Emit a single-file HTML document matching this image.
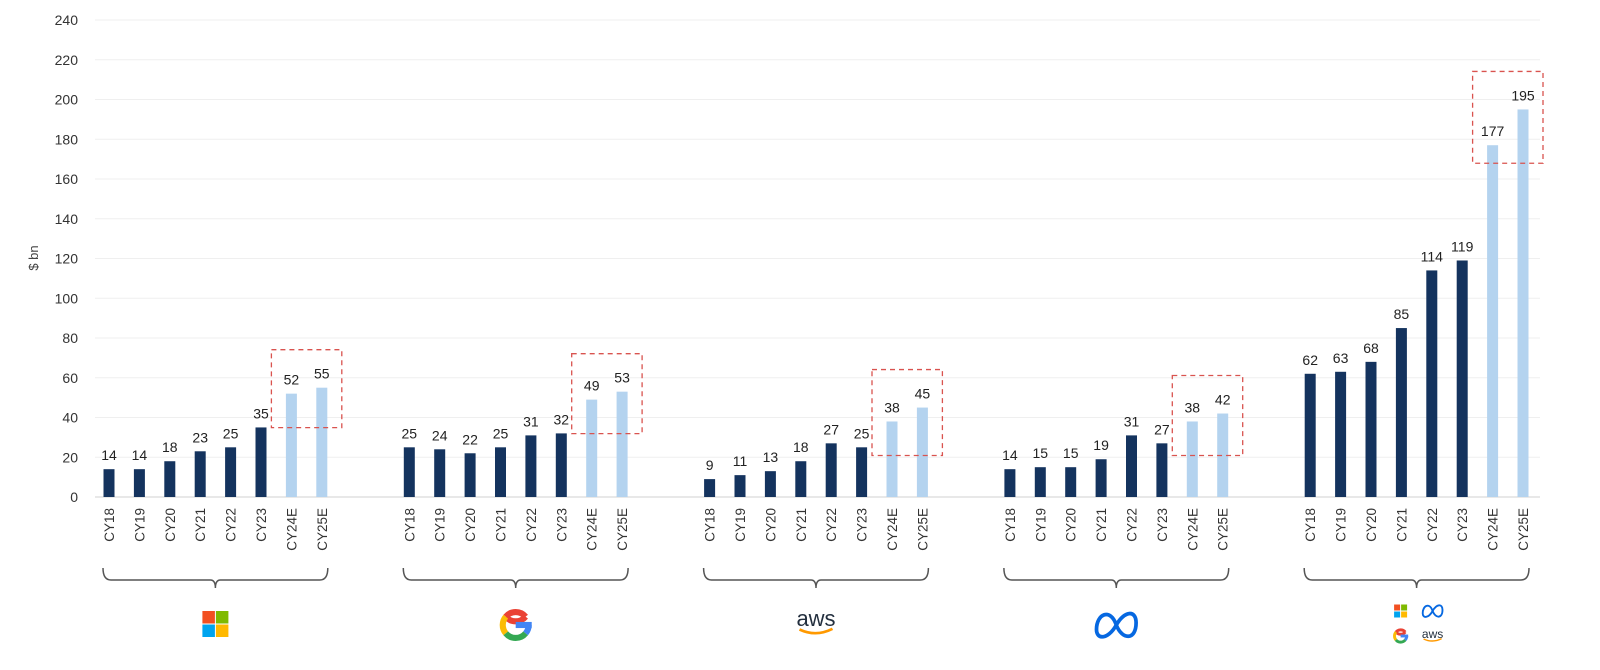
<!DOCTYPE html>
<html><head><meta charset="utf-8"><style>
html,body{margin:0;padding:0;background:#fff;}
svg{display:block;font-family:"Liberation Sans",sans-serif;}
</style></head><body>
<svg id="chart" width="1600" height="670" viewBox="0 0 1600 670" xmlns="http://www.w3.org/2000/svg">
<g id="grid"></g>
<g id="yticks"></g>
<text transform="translate(38,258) rotate(-90)" text-anchor="middle" font-size="13" fill="#444">$ bn</text>
<g id="bars"></g>
<g id="logos"></g>
</svg>
<script>
const categories = ["CY18","CY19","CY20","CY21","CY22","CY23","CY24E","CY25E"];
const groups = ["microsoft","google","aws","meta","total"];
const msft = [14,14,18,23,25,35,52,55];
const goog = [25,24,22,25,31,32,49,53];
const amzn = [9,11,13,18,27,25,38,45];
const meta = [14,15,15,19,31,27,38,42];
const total = [62,63,68,85,114,119,177,195];
const yTicks = [0,20,40,60,80,100,120,140,160,180,200,220,240];
const series = [msft,goog,amzn,meta,total];

const NS="http://www.w3.org/2000/svg";
function y(v){return 497 - v*(477/240);}
function x(g,i){return 109 + g*300.3 + i*30.4;}
function mk(tag,attrs,parent){const e=document.createElementNS(NS,tag);for(const k in attrs)e.setAttribute(k,attrs[k]);parent.appendChild(e);return e;}

const grid=document.getElementById('grid'), yt=document.getElementById('yticks'), bars=document.getElementById('bars'), logos=document.getElementById('logos');
yTicks.forEach(t=>{
  const l=mk('line',{x1:95,x2:1540,y1:y(t),y2:y(t),stroke:t===0?'#d0d0d0':'#efefef','stroke-width':1},grid);
  
  
  const tx=mk('text',{x:78,y:y(t)+5,'text-anchor':'end','font-size':14,fill:'#333'},yt);
  tx.textContent=t;
  
  
});

series.forEach((vals,g)=>{
  vals.forEach((v,i)=>{
    const cx=x(g,i);
    const est=i>=6;
    const r=mk('rect',{x:cx-5.5,y:y(v),width:11,height:y(0)-y(v),fill:est?'#b4d3ef':'#14335e'},bars);
    
    
    const lb=mk('text',{x:cx,y:y(v)-9,'text-anchor':'middle','font-size':14,fill:'#222'},bars);
    lb.textContent=v;
    
    
    const cl=mk('text',{transform:`translate(${cx+5},508) rotate(-90)`,'text-anchor':'end','font-size':13.5,fill:'#333'},bars);
    cl.textContent=categories[i];
    
    
  });
  const top=Math.max(vals[6],vals[7]);
  const x0=x(g,6)-20, x1=x(g,7)+20;
  const y0=y(top)-38, y1=y(Math.min(vals[6],vals[7]))+ (g===4?18:34);
  const bx=mk('rect',{x:x0,y:y0,width:x1-x0,height:y1-y0,fill:'none',stroke:'#d9534f','stroke-width':1.3,'stroke-dasharray':'5,4'},bars);
  
  
  const a=x(g,0)-6, b=x(g,7)+6, m=(a+b)/2;
  const br=mk('path',{d:`M${a},568 Q${a},580 ${a+8},580 L${m-5},580 Q${m},580 ${m},588 Q${m},580 ${m+5},580 L${b-8},580 Q${b},580 ${b},568`,fill:'none',stroke:'#555','stroke-width':1.5},bars);
  
  
});

function msLogo(cx,cy,s,p){
  const h=s/2-0.5;
  [['#f25022',0,0],['#7fba00',1,0],['#00a4ef',0,1],['#ffb900',1,1]].forEach(([c,i,j])=>mk('rect',{x:cx-s/2+i*(h+1),y:cy-s/2+j*(h+1),width:h,height:h,fill:c},p));
}
function gLogo(cx,cy,s,p){
  const r=s*0.36, sw=s*0.17;
  const arc=(a1,a2,col)=>{const t1=a1*Math.PI/180,t2=a2*Math.PI/180;
    mk('path',{d:`M${cx+r*Math.cos(t1)},${cy+r*Math.sin(t1)} A${r},${r} 0 ${(a2-a1)>180?1:0} 1 ${cx+r*Math.cos(t2)},${cy+r*Math.sin(t2)}`,fill:'none',stroke:col,'stroke-width':sw},p);};
  arc(-40,-140+360-360+0,'#ea4335');
  arc(-140,-40,'#ea4335');
  arc(140,220,'#fbbc05');
  arc(40,140,'#34a853');
  arc(0,40,'#4285f4');
  mk('rect',{x:cx,y:cy-sw/2,width:r+sw/2,height:sw,fill:'#4285f4'},p);
}
function awsLogo(cx,cy,s,p){
  const t=mk('text',{x:cx,y:cy+2,'text-anchor':'middle','font-size':s,fill:'#232f3e'},p);t.textContent='aws';
  mk('path',{d:`M${cx-s*0.75},${cy+s*0.25} Q${cx},${cy+s*0.6} ${cx+s*0.75},${cy+s*0.22}`,fill:'none',stroke:'#ff9900','stroke-width':s*0.12},p);
}
function metaLogo(cx,cy,s,p){
  const w=s*0.9,h=s*0.5;
  mk('path',{d:`M${cx},${cy} C${cx-w*0.3},${cy-h*1.6} ${cx-w},${cy-h} ${cx-w},${cy+h*0.4} C${cx-w},${cy+h*1.4} ${cx-w*0.4},${cy+h*1.3} ${cx},${cy} C${cx+w*0.4},${cy-h*1.3} ${cx+w},${cy-h*1.4} ${cx+w},${cy-h*0.2} C${cx+w},${cy+h*1.4} ${cx+w*0.3},${cy+h*1.4} ${cx},${cy}`,fill:'none',stroke:'#0668e1','stroke-width':s*0.17},p);
}
function lg(name){const g=mk('g',{},logos);return g;}
const c=g=>(x(g,0)+x(g,7))/2;
msLogo(c(0),624,26,lg('microsoft-logo'));
gLogo(c(1),625,36,lg('google-logo'));
awsLogo(c(2),624,22,lg('aws-logo'));
metaLogo(c(3),625,22,lg('meta-logo'));
const tl=lg('combined-logo');
msLogo(c(4)-16,611,13,tl);
metaLogo(c(4)+16,611,11,tl);
gLogo(c(4)-16,636,17,tl);
awsLogo(c(4)+16,636,12,tl);
</script>
</body></html>
